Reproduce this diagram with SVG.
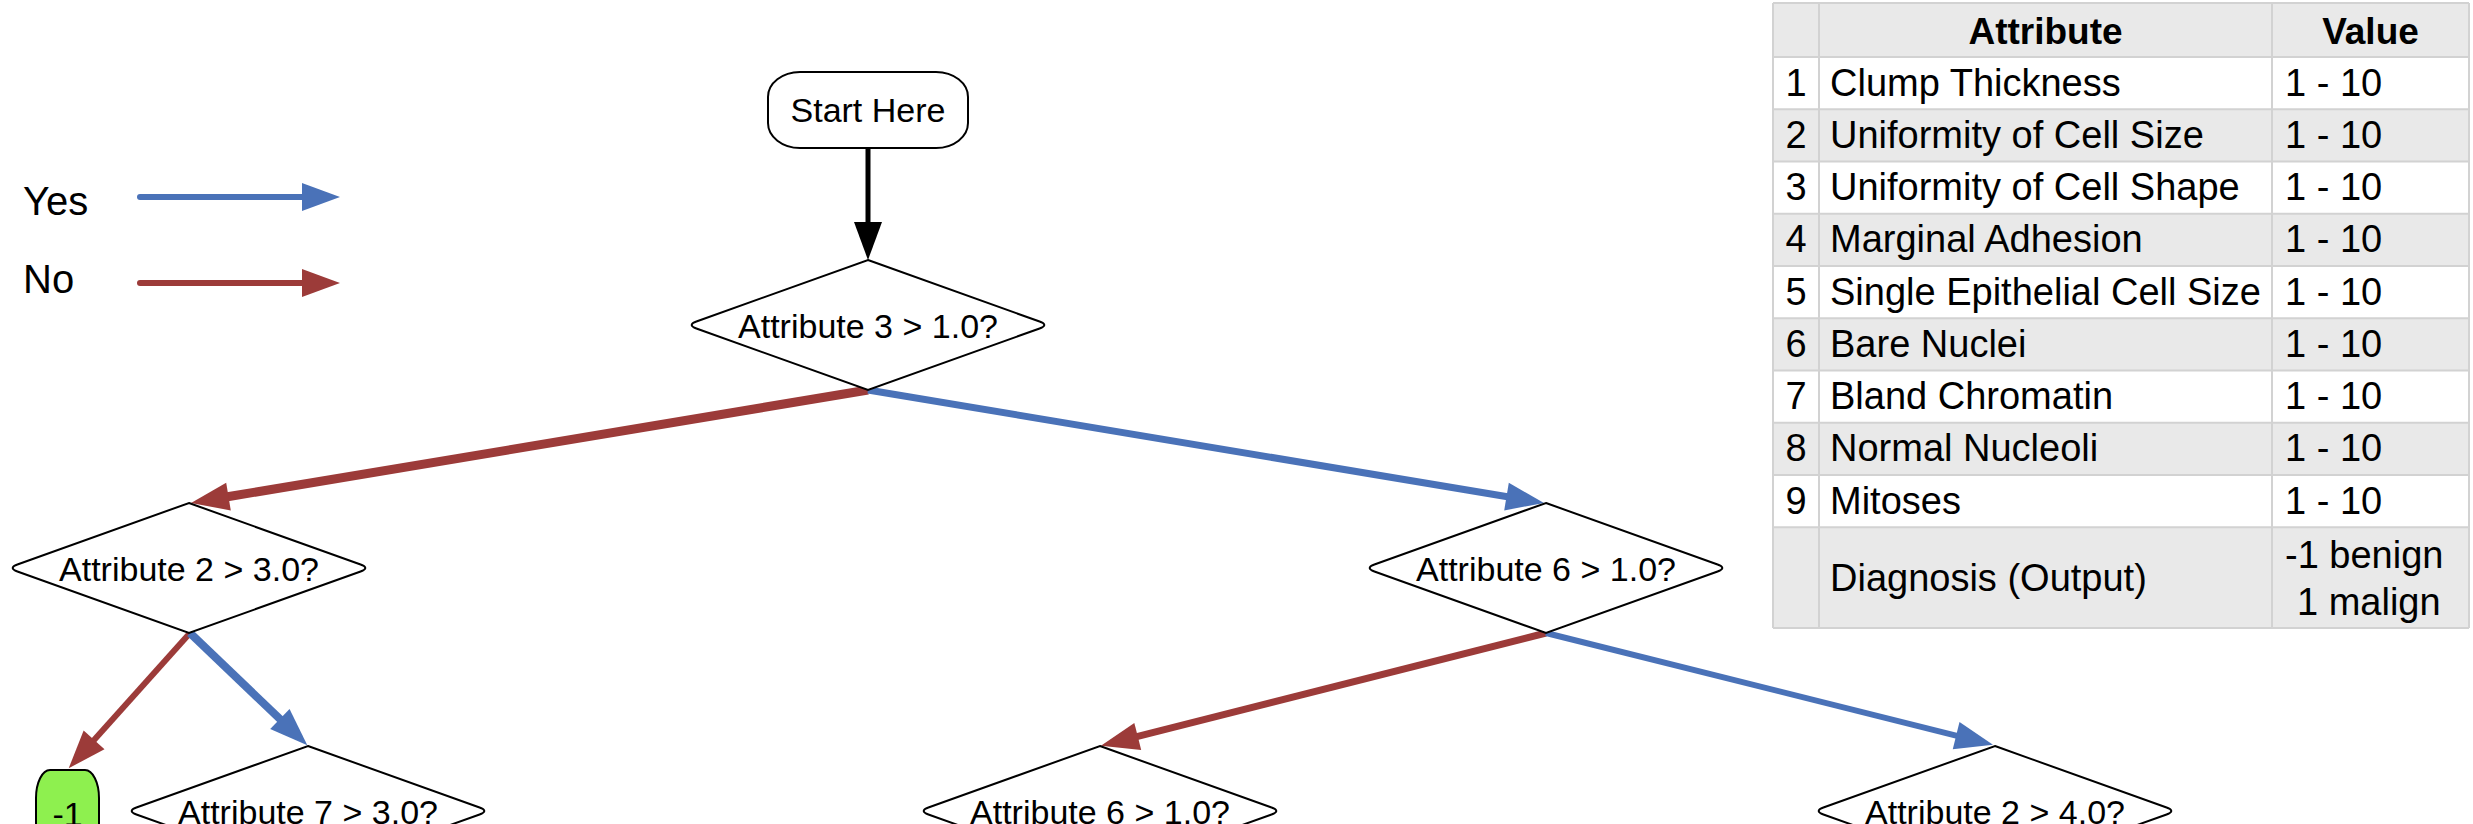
<svg xmlns="http://www.w3.org/2000/svg" width="2473" height="824" viewBox="0 0 2473 824">
<style>
text{font-family:"Liberation Sans",Arial,sans-serif;fill:#000}
.n{font-size:34px;text-anchor:middle}
.lg{font-size:40px}
.t{font-size:38px}
.th{font-size:37px;font-weight:bold;text-anchor:middle}
.c{text-anchor:middle}
.dia{fill:#fff;stroke:#000;stroke-width:2}
.yes{stroke:#4a72b8;fill:none}
.no{stroke:#9c3b39;fill:none}
.grid{stroke:#d2d2d2;stroke-width:2;fill:none}
.g{fill:#e9e9e9}
.w{fill:#fff}
</style>
<defs>
<path id="diamond" d="M0,-65 L171.6,-3.45 Q181,0 171.6,3.45 L0,65 L-171.6,3.45 Q-181,0 -171.6,-3.45 Z"/>
<marker id="hb" markerUnits="userSpaceOnUse" markerWidth="38" markerHeight="28" refX="1" refY="14" orient="auto" overflow="visible"><path d="M0,0 L38,14 L0,28 Z" fill="#4a72b8"/></marker>
<marker id="hr" markerUnits="userSpaceOnUse" markerWidth="38" markerHeight="28" refX="1" refY="14" orient="auto" overflow="visible"><path d="M0,0 L38,14 L0,28 Z" fill="#9c3b39"/></marker>
<marker id="hk" markerUnits="userSpaceOnUse" markerWidth="38" markerHeight="28" refX="1" refY="14" orient="auto" overflow="visible"><path d="M0,0 L38,14 L0,28 Z" fill="#000"/></marker>
</defs>
<rect width="2473" height="824" fill="#fff"/>

<g id="legend">
<text class="lg" x="23" y="215">Yes</text>
<text class="lg" x="23" y="293">No</text>
<line class="yes" x1="140" y1="197" x2="303" y2="197" stroke-width="6" stroke-linecap="round" marker-end="url(#hb)"/>
<line class="no" x1="140" y1="283" x2="303" y2="283" stroke-width="6" stroke-linecap="round" marker-end="url(#hr)"/>
</g>

<g id="connectors">
<line x1="868" y1="148" x2="868" y2="223" stroke="#000" stroke-width="5" marker-end="url(#hk)"/>
<line class="no" x1="868" y1="390" x2="227.5" y2="496.8" stroke-width="9" marker-end="url(#hr)"/>
<line class="yes" x1="868" y1="390" x2="1507.5" y2="496.8" stroke-width="7" marker-end="url(#hb)"/>
<line class="no" x1="190" y1="633" x2="93.4" y2="740.7" stroke-width="6" marker-end="url(#hr)"/>
<line class="yes" x1="190" y1="633" x2="280.6" y2="719.7" stroke-width="8" marker-end="url(#hb)"/>
<line class="no" x1="1546" y1="633" x2="1136.8" y2="736.7" stroke-width="7" marker-end="url(#hr)"/>
<line class="yes" x1="1546" y1="633" x2="1957.1" y2="735.8" stroke-width="6" marker-end="url(#hb)"/>
</g>

<g id="start">
<rect x="768" y="72" width="200" height="76" rx="32" ry="25" fill="#fff" stroke="#000" stroke-width="2"/>
<text class="n" x="868" y="122">Start Here</text>
</g>
<g id="attr3">
<use href="#diamond" class="dia" x="868" y="325"/>
<text class="n" x="868" y="338">Attribute 3 &gt; 1.0?</text>
</g>
<g id="attr2">
<use href="#diamond" class="dia" x="189" y="568"/>
<text class="n" x="189" y="581">Attribute 2 &gt; 3.0?</text>
</g>
<g id="attr6">
<use href="#diamond" class="dia" x="1546" y="568"/>
<text class="n" x="1546" y="581">Attribute 6 &gt; 1.0?</text>
</g>
<g id="leaf1">
<rect x="36" y="770" width="63" height="120" rx="14" ry="28" fill="#8ef04f" stroke="#000" stroke-width="2"/>
<text class="n" x="67.5" y="826">-1</text>
</g>
<g id="attr7">
<use href="#diamond" class="dia" x="308" y="811"/>
<text class="n" x="308" y="824">Attribute 7 &gt; 3.0?</text>
</g>
<g id="attr6b">
<use href="#diamond" class="dia" x="1100" y="811"/>
<text class="n" x="1100" y="824">Attribute 6 &gt; 1.0?</text>
</g>
<g id="attr2b">
<use href="#diamond" class="dia" x="1995" y="811"/>
<text class="n" x="1995" y="824">Attribute 2 &gt; 4.0?</text>
</g>

<g id="table">
<rect class="g" x="1773" y="3" width="696" height="54"/>
<rect class="w" x="1773" y="57" width="696" height="52.25"/>
<rect class="g" x="1773" y="109.25" width="696" height="52.25"/>
<rect class="w" x="1773" y="161.5" width="696" height="52.25"/>
<rect class="g" x="1773" y="213.75" width="696" height="52.25"/>
<rect class="w" x="1773" y="266" width="696" height="52.25"/>
<rect class="g" x="1773" y="318.25" width="696" height="52.25"/>
<rect class="w" x="1773" y="370.5" width="696" height="52.25"/>
<rect class="g" x="1773" y="422.75" width="696" height="52.25"/>
<rect class="w" x="1773" y="475" width="696" height="52.25"/>
<rect class="g" x="1773" y="527.25" width="696" height="100.75"/>
<path class="grid" d="M1773,3 H2469 M1773,57 H2469 M1773,109.25 H2469 M1773,161.5 H2469 M1773,213.75 H2469 M1773,266 H2469 M1773,318.25 H2469 M1773,370.5 H2469 M1773,422.75 H2469 M1773,475 H2469 M1773,527.25 H2469 M1773,628 H2469 M1773,3 V628 M1819,3 V628 M2272,3 V628 M2469,3 V628"/>
<text class="th" x="2045.5" y="44">Attribute</text>
<text class="th" x="2370.5" y="44">Value</text>
<g class="t">
<text class="t c" x="1796" y="95.5">1</text><text class="t" x="1830" y="95.5">Clump Thickness</text><text class="t" x="2285" y="95.5">1 - 10</text>
<text class="t c" x="1796" y="147.75">2</text><text class="t" x="1830" y="147.75">Uniformity of Cell Size</text><text class="t" x="2285" y="147.75">1 - 10</text>
<text class="t c" x="1796" y="200">3</text><text class="t" x="1830" y="200">Uniformity of Cell Shape</text><text class="t" x="2285" y="200">1 - 10</text>
<text class="t c" x="1796" y="252.25">4</text><text class="t" x="1830" y="252.25">Marginal Adhesion</text><text class="t" x="2285" y="252.25">1 - 10</text>
<text class="t c" x="1796" y="304.5">5</text><text class="t" x="1830" y="304.5">Single Epithelial Cell Size</text><text class="t" x="2285" y="304.5">1 - 10</text>
<text class="t c" x="1796" y="356.75">6</text><text class="t" x="1830" y="356.75">Bare Nuclei</text><text class="t" x="2285" y="356.75">1 - 10</text>
<text class="t c" x="1796" y="409">7</text><text class="t" x="1830" y="409">Bland Chromatin</text><text class="t" x="2285" y="409">1 - 10</text>
<text class="t c" x="1796" y="461.25">8</text><text class="t" x="1830" y="461.25">Normal Nucleoli</text><text class="t" x="2285" y="461.25">1 - 10</text>
<text class="t c" x="1796" y="513.5">9</text><text class="t" x="1830" y="513.5">Mitoses</text><text class="t" x="2285" y="513.5">1 - 10</text>
<text class="t" x="1830" y="591">Diagnosis (Output)</text>
<text class="t" x="2285" y="568">-1 benign</text>
<text class="t" x="2297" y="615">1 malign</text>
</g>
</g>
</svg>
